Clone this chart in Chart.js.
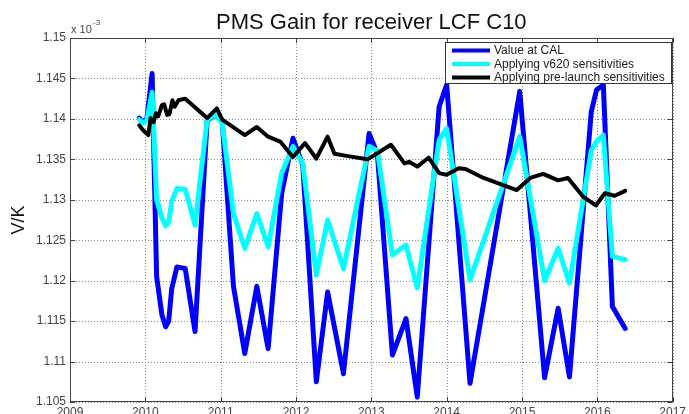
<!DOCTYPE html>
<html>
<head>
<meta charset="utf-8">
<script src="https://cdn.jsdelivr.net/npm/chart.js@4/dist/chart.umd.min.js"></script>
<style>
  html, body { margin: 0; padding: 0; background: #fff; overflow: hidden; }
  canvas { display: block; }
</style>
</head>
<body>
<canvas id="gain" width="689" height="414"></canvas>
<script>
// Calibration epochs (decimal years) shared by the CAL and v620 series
const calTimes = [
  2009.92, 2009.97, 2010.02, 2010.09, 2010.15, 2010.22, 2010.27, 2010.31, 2010.35, 2010.42,
  2010.53, 2010.66, 2010.82, 2010.93, 2011.02, 2011.17, 2011.32, 2011.48, 2011.63, 2011.81,
  2011.96, 2012.09, 2012.27, 2012.42, 2012.63, 2012.97, 2013.08, 2013.28, 2013.46, 2013.61,
  2013.90, 2014.00, 2014.31, 2014.97, 2015.30, 2015.48, 2015.63, 2015.92, 2015.99, 2016.08,
  2016.20, 2016.37
];

// PMS gain in units of 1e-3 V/K
const calValues = [
  1.1401, 1.1396, 1.1400, 1.1456, 1.1205, 1.1158, 1.1143, 1.1150, 1.1190, 1.1217,
  1.1215, 1.1137, 1.1398, 1.1405, 1.1398, 1.1193, 1.1110, 1.1193, 1.1116, 1.1308,
  1.1376, 1.1343, 1.1075, 1.1186, 1.1085, 1.1382, 1.1357, 1.1108, 1.1153, 1.1056,
  1.1415, 1.1442, 1.1073, 1.1434, 1.1080, 1.1166, 1.1081, 1.1409, 1.1436, 1.1442,
  1.1168, 1.1141
];

const v620Values = [
  1.1399, 1.1395, 1.1398, 1.1433, 1.1300, 1.1278, 1.1268, 1.1272, 1.1298, 1.1314,
  1.1313, 1.1269, 1.1399, 1.1405, 1.1395, 1.1283, 1.1240, 1.1283, 1.1242, 1.1333,
  1.1366, 1.1345, 1.1207, 1.1275, 1.1215, 1.1366, 1.1361, 1.1232, 1.1244, 1.1191,
  1.1374, 1.1388, 1.1201, 1.1378, 1.1200, 1.1240, 1.1197, 1.1361, 1.1372, 1.1380,
  1.1230, 1.1226
];

// Pre-launch sensitivity series has its own epochs
const preTimes = [
  2009.92, 2009.97, 2010.04, 2010.07, 2010.11, 2010.14, 2010.17, 2010.22, 2010.25, 2010.29,
  2010.32, 2010.36, 2010.39, 2010.44, 2010.53, 2010.82, 2010.95, 2011.02, 2011.32, 2011.48,
  2011.63, 2011.79, 2011.96, 2012.12, 2012.27, 2012.42, 2012.51, 2012.69, 2012.95, 2013.26,
  2013.44, 2013.50, 2013.61, 2013.76, 2013.90, 2014.00, 2014.16, 2014.25, 2014.49, 2014.93,
  2015.11, 2015.28, 2015.48, 2015.61, 2015.81, 2015.98, 2016.10, 2016.23, 2016.37
];

const preValues = [
  1.1392, 1.1386, 1.1380, 1.1401, 1.1396, 1.1407, 1.1403, 1.1417, 1.1418, 1.1405,
  1.1406, 1.1423, 1.1415, 1.1423, 1.1425, 1.1401, 1.1413, 1.1399, 1.1380, 1.1390,
  1.1378, 1.1372, 1.1353, 1.1370, 1.1351, 1.1378, 1.1357, 1.1354, 1.1350, 1.1368,
  1.1345, 1.1347, 1.1341, 1.1352, 1.1333, 1.1331, 1.1339, 1.1338, 1.1327, 1.1312,
  1.1327, 1.1332, 1.1324, 1.1327, 1.1304, 1.1293, 1.1308, 1.1305, 1.1311
];

const seriesNames = ['Value at CAL', 'Applying v620 sensitivities', 'Applying pre-launch sensitivities'];
const seriesColors = ['#0000ff', '#00ffff', '#000000'];

const yearTicks = [2009, 2010, 2011, 2012, 2013, 2014, 2015, 2016, 2017];
const gainTicks = [1.105, 1.11, 1.115, 1.12, 1.125, 1.13, 1.135, 1.14, 1.145, 1.15];

const titleText = 'PMS Gain for receiver LCF C10';
const yAxisLabel = 'V/K';

const FONT = '"Liberation Sans", Arial, Helvetica, sans-serif';

function pairs(xs, ys) {
  return xs.map((x, i) => ({ x: x, y: ys[i] }));
}

// Dotted grid at every tick, under the data lines
const dottedGrid = {
  id: 'dottedGrid',
  beforeDatasetsDraw(chart) {
    const ctx = chart.ctx;
    const a = chart.chartArea;
    const xs = chart.scales.x, ys = chart.scales.y;
    ctx.save();
    ctx.strokeStyle = '#8a8a8a';
    ctx.lineWidth = 1;
    ctx.setLineDash([1, 2]);
    ctx.beginPath();
    yearTicks.forEach(v => {
      const px = Math.round(xs.getPixelForValue(v)) + 0.5;
      ctx.moveTo(px, a.top);
      ctx.lineTo(px, a.bottom);
    });
    gainTicks.forEach(v => {
      const py = Math.round(ys.getPixelForValue(v)) + 0.5;
      ctx.moveTo(a.left, py);
      ctx.lineTo(a.right, py);
    });
    ctx.stroke();
    ctx.restore();
  }
};

// Frame, title, exponent note and in-axes legend
const decorations = {
  id: 'decorations',
  afterDatasetsDraw(chart) {
    const ctx = chart.ctx;
    const a = chart.chartArea;
    ctx.save();

    // axes box
    ctx.strokeStyle = '#444';
    ctx.lineWidth = 1;
    ctx.strokeRect(Math.round(a.left) + 0.5, Math.round(a.top) + 0.5,
                   Math.round(a.right - a.left) - 1, Math.round(a.bottom - a.top) - 1);

    // small inward tick marks on all four sides
    const xs = chart.scales.x, ys = chart.scales.y;
    ctx.beginPath();
    yearTicks.forEach(v => {
      const px = Math.round(xs.getPixelForValue(v)) + 0.5;
      ctx.moveTo(px, a.bottom); ctx.lineTo(px, a.bottom - 5);
      ctx.moveTo(px, a.top); ctx.lineTo(px, a.top + 5);
    });
    gainTicks.forEach(v => {
      const py = Math.round(ys.getPixelForValue(v)) + 0.5;
      ctx.moveTo(a.left, py); ctx.lineTo(a.left + 5, py);
      ctx.moveTo(a.right, py); ctx.lineTo(a.right - 5, py);
    });
    ctx.stroke();

    // title
    ctx.fillStyle = '#111';
    ctx.font = '22px ' + FONT;
    ctx.textAlign = 'center';
    ctx.textBaseline = 'alphabetic';
    ctx.fillText(titleText, (a.left + a.right) / 2, 29);

    // exponent note above the y axis
    ctx.fillStyle = '#444';
    ctx.textAlign = 'left';
    ctx.font = '11px ' + FONT;
    ctx.fillText('x 10', a.left + 1, a.top - 5);
    ctx.font = '8px ' + FONT;
    ctx.fillText('-3', a.left + 23, a.top - 13);

    // legend box
    const lx = 445, ly = 42, lw = 226, lh = 41;
    ctx.fillStyle = '#fff';
    ctx.fillRect(lx, ly, lw, lh);
    ctx.strokeStyle = '#333';
    ctx.strokeRect(lx + 0.5, ly + 0.5, lw, lh);
    ctx.font = '12px ' + FONT;
    ctx.textBaseline = 'middle';
    seriesNames.forEach((name, i) => {
      const yy = ly + 8.5 + i * 13.5;
      ctx.strokeStyle = seriesColors[i];
      ctx.lineWidth = 4;
      ctx.beginPath();
      ctx.moveTo(452, yy);
      ctx.lineTo(490, yy);
      ctx.stroke();
      ctx.fillStyle = '#222';
      ctx.fillText(name, 494, yy + 0.5);
    });

    ctx.restore();
  }
};

new Chart(document.getElementById('gain'), {
  type: 'line',
  data: {
    datasets: [
      {
        label: seriesNames[0],
        data: pairs(calTimes, calValues),
        borderColor: seriesColors[0],
        borderWidth: 5,
        order: 3
      },
      {
        label: seriesNames[1],
        data: pairs(calTimes, v620Values),
        borderColor: seriesColors[1],
        borderWidth: 5,
        order: 2
      },
      {
        label: seriesNames[2],
        data: pairs(preTimes, preValues),
        borderColor: seriesColors[2],
        borderWidth: 4,
        order: 1
      }
    ]
  },
  options: {
    responsive: false,
    animation: false,
    devicePixelRatio: 1,
    layout: { padding: { top: 38, right: 12, left: 0, bottom: 0 } },
    elements: {
      point: { radius: 0, hoverRadius: 0 },
      line: { tension: 0, borderJoinStyle: 'round', borderCapStyle: 'round', fill: false }
    },
    plugins: {
      legend: { display: false },
      title: { display: false },
      tooltip: { enabled: false }
    },
    scales: {
      x: {
        type: 'linear',
        min: 2009,
        max: 2017,
        afterBuildTicks: s => { s.ticks = yearTicks.map(v => ({ value: v })); },
        afterFit: s => { s.height = 12; },
        ticks: {
          callback: v => String(v),
          autoSkip: false,
          maxRotation: 0,
          padding: 3,
          color: '#444',
          font: { family: FONT, size: 12 }
        },
        grid: { display: false, drawTicks: false },
        border: { display: false }
      },
      y: {
        type: 'linear',
        min: 1.105,
        max: 1.15,
        afterBuildTicks: s => { s.ticks = gainTicks.map(v => ({ value: v })); },
        afterFit: s => { s.width = 70; },
        ticks: {
          callback: v => String(Number(v.toFixed(3))),
          padding: 4,
          color: '#444',
          font: { family: FONT, size: 12 }
        },
        grid: { display: false, drawTicks: false },
        border: { display: false },
        title: {
          display: true,
          text: yAxisLabel,
          color: '#111',
          font: { family: FONT, size: 18 },
          padding: { top: 8, bottom: 0 }
        }
      }
    }
  },
  plugins: [dottedGrid, decorations]
});
</script>
</body>
</html>
